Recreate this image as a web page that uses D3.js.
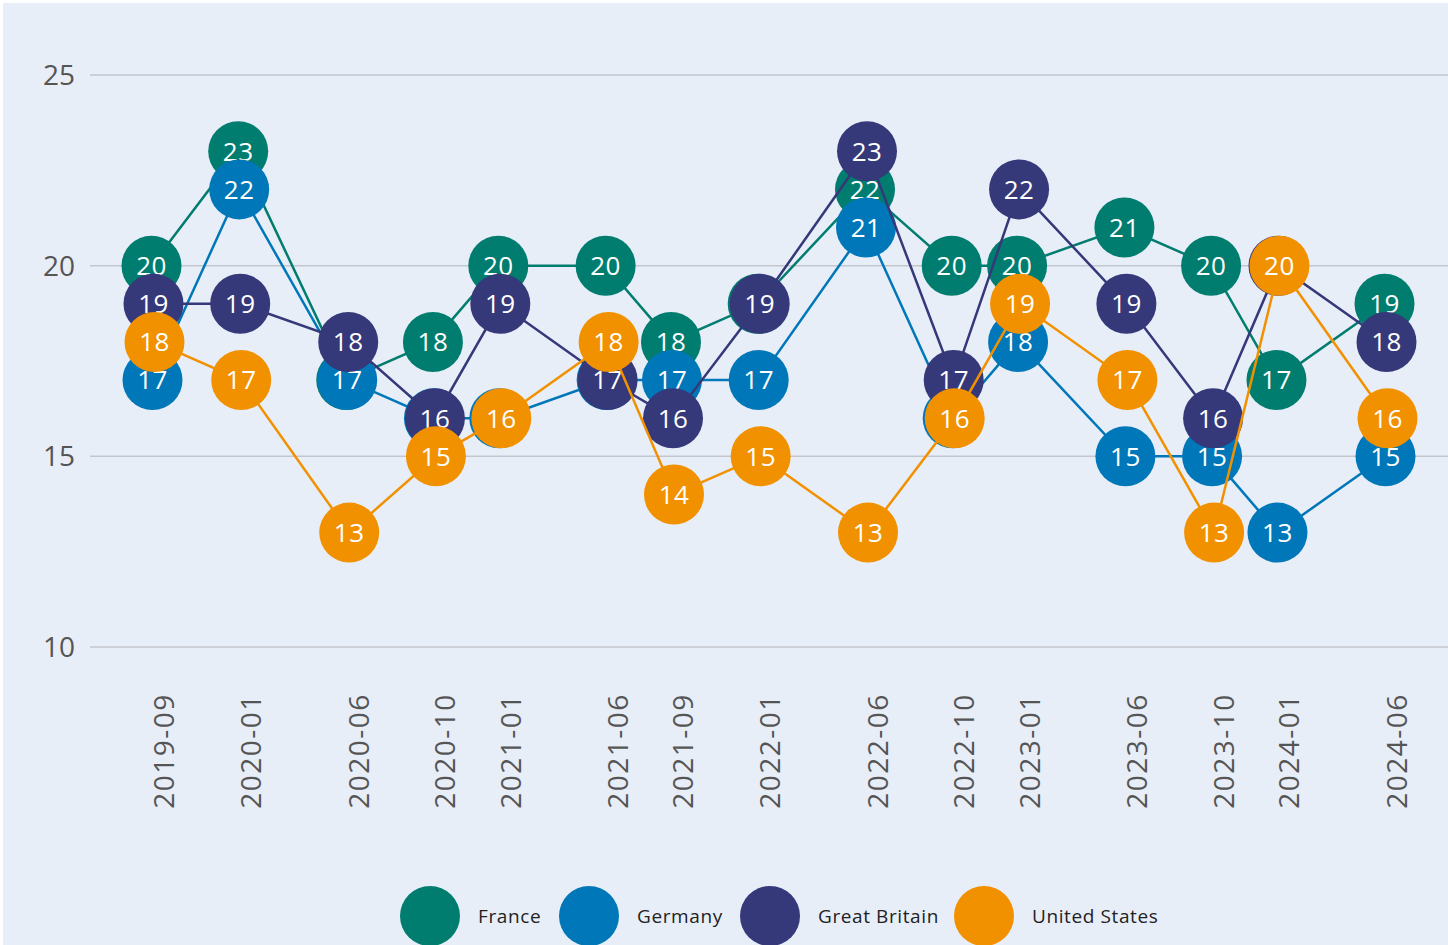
<!DOCTYPE html>
<html>
<head>
<meta charset="utf-8">
<script src="https://cdn.jsdelivr.net/npm/d3@7"></script>
<style>
  html, body { margin: 0; padding: 0; background: #fff; }
  svg { display: block; font-family: "Open Sans", sans-serif; }
</style>
</head>
<body>
<div id="chart"></div>
<script>
// periods shown on the x axis
var periods = ["2019-09", "2020-01", "2020-06", "2020-10", "2021-01", "2021-06", "2021-09",
               "2022-01", "2022-06", "2022-10", "2023-01", "2023-06", "2023-10", "2024-01", "2024-06"];

var france       = [20, 23, 17, 18, 20, 20, 18, 19, 22, 20, 20, 21, 20, 17, 19];
var germany      = [17, 22, 17, 16, 16, 17, 17, 17, 21, 16, 18, 15, 15, 13, 15];
var greatBritain = [19, 19, 18, 16, 19, 17, 16, 19, 23, 17, 22, 19, 16, 20, 18];
var unitedStates = [18, 17, 13, 15, 16, 18, 14, 15, 13, 16, 19, 17, 13, 20, 16];

var seriesNames  = ["France", "Germany", "Great Britain", "United States"];
var seriesColors = ["#007d6f", "#0077b8", "#353879", "#f29100"];
var yTicks = [10, 15, 20, 25];

var w = 1448, h = 945;
var parse = d3.timeParse("%Y-%m");

var series = [france, germany, greatBritain, unitedStates].map(function (vals, i) {
    return {
        name: seriesNames[i],
        color: seriesColors[i],
        values: vals.map(function (v, j) { return { date: parse(periods[j]), value: v }; })
    };
});

var svg = d3.select("#chart").append("svg")
    .attr("width", w)
    .attr("height", h);

svg.append("rect")
    .attr("x", 3).attr("y", 3)
    .attr("width", w - 3).attr("height", h - 3)
    .attr("fill", "#e8eef8");

var x = d3.scaleTime()
    .domain([parse(periods[0]), parse(periods[periods.length - 1])])
    .range([153, 1386]);
var y = d3.scaleLinear().domain([10, 25]).range([647, 75]);
// small dodge so overlapping circles are still told apart
var dodge = d3.scalePoint().domain(seriesNames).range([-1.5, 1.5]);

// grid + y labels
svg.append("g").selectAll("line").data(yTicks).enter()
    .append("line")
    .attr("x1", 90).attr("x2", w)
    .attr("y1", function (d) { return y(d); })
    .attr("y2", function (d) { return y(d); })
    .attr("stroke", "#c4c6cc")
    .attr("stroke-width", 1.5);

svg.append("g").selectAll("text").data(yTicks).enter()
    .append("text")
    .attr("x", 75)
    .attr("y", function (d) { return y(d); })
    .attr("dy", "0.36em")
    .attr("text-anchor", "end")
    .attr("font-size", 28)
    .attr("fill", "#555")
    .text(function (d) { return d; });

// x labels, rotated
svg.append("g").selectAll("text").data(periods).enter()
    .append("text")
    .attr("transform", function (d) { return "translate(" + (x(parse(d)) + 21) + ",751) rotate(-90)"; })
    .attr("text-anchor", "middle")
    .attr("font-size", 28)
    .attr("letter-spacing", 1.5)
    .attr("fill", "#555")
    .text(function (d) { return d; });

var line = d3.line()
    .x(function (d) { return x(d.date); })
    .y(function (d) { return y(d.value); });

var groups = svg.selectAll("g.series").data(series).enter()
    .append("g")
    .attr("class", "series")
    .attr("transform", function (d) { return "translate(" + dodge(d.name) + ",0)"; });

groups.append("path")
    .attr("d", function (d) { return line(d.values); })
    .attr("fill", "none")
    .attr("stroke", function (d) { return d.color; })
    .attr("stroke-width", 2.5);

var pts = groups.selectAll("g.pt").data(function (d) {
        return d.values.map(function (v) { return { date: v.date, value: v.value, color: d.color }; });
    }).enter()
    .append("g")
    .attr("class", "pt")
    .attr("transform", function (d) { return "translate(" + x(d.date) + "," + y(d.value) + ")"; });

pts.append("circle")
    .attr("r", 30)
    .attr("fill", function (d) { return d.color; });

pts.append("text")
    .attr("text-anchor", "middle")
    .attr("dy", "0.36em")
    .attr("font-size", 26)
    .attr("letter-spacing", 0.5)
    .attr("fill", "#fff")
    .text(function (d) { return d.value; });

// legend
var legendX = [430, 589, 770, 984];
var legend = svg.append("g").selectAll("g").data(series).enter()
    .append("g")
    .attr("transform", function (d, i) { return "translate(" + legendX[i] + ",916)"; });
legend.append("circle")
    .attr("r", 30)
    .attr("fill", function (d) { return d.color; });
legend.append("text")
    .attr("x", 48)
    .attr("dy", "0.36em")
    .attr("font-size", 19)
    .attr("letter-spacing", 0.6)
    .attr("fill", "#222")
    .text(function (d) { return d.name; });
</script>
</body>
</html>
